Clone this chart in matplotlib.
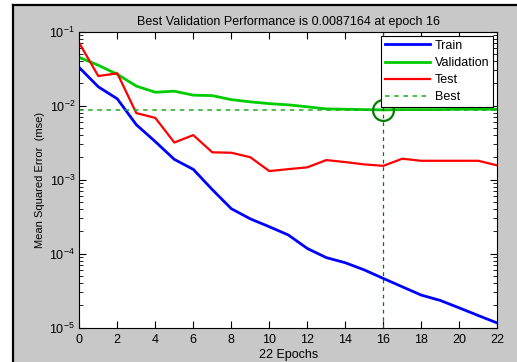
import matplotlib
matplotlib.use("Agg")
import matplotlib.pyplot as plt
from matplotlib.patches import Rectangle
from matplotlib.lines import Line2D
from matplotlib.ticker import LogLocator, NullFormatter

plt.rcParams['font.family'] = ['Liberation Sans', 'DejaVu Sans']
plt.rcParams['mathtext.fontset'] = 'custom'
plt.rcParams['mathtext.rm'] = 'Liberation Sans'
plt.rcParams['mathtext.it'] = 'Liberation Sans'
plt.rcParams['mathtext.default'] = 'regular'

epochs = list(range(23))
train = [0.0325, 0.0179, 0.0123, 0.0055, 0.00325, 0.00187, 0.00137, 0.00073,
         0.000403, 0.000294, 0.00023, 0.000178, 0.000117, 8.8e-5, 7.5e-5,
         6.0e-5, 4.6e-5, 3.55e-5, 2.74e-5, 2.32e-5, 1.84e-5, 1.45e-5, 1.15e-5]
validation = [0.0446, 0.035, 0.0264, 0.0183, 0.0151, 0.0156, 0.0138, 0.0136,
              0.0120, 0.0112, 0.0106, 0.0102, 0.0096, 0.0090, 0.0089, 0.0088,
              0.0087164, 0.0088, 0.0088, 0.0088, 0.0089, 0.0089, 0.0089]
test = [0.0697, 0.025, 0.0272, 0.0079, 0.0068, 0.00316, 0.00398, 0.00233,
        0.0023, 0.0020, 0.0013, 0.00138, 0.00146, 0.00183, 0.00172, 0.0016,
        0.00153, 0.00191, 0.00179, 0.00179, 0.00179, 0.00179, 0.00155]
best_epoch = 16
best_perf = 0.0087164
xticks = list(range(0, 23, 2))
yticks = [1e-5, 1e-4, 1e-3, 1e-2, 1e-1]
ytick_labels = [r'$10^{-5}$', r'$10^{-4}$', r'$10^{-3}$', r'$10^{-2}$', r'$10^{-1}$']

W, H = 517, 362
fig = plt.figure(figsize=(W / 100, H / 100), dpi=100)
fig.patch.set_facecolor('white')
# grey window background with black left/top frame
fig.patches.append(Rectangle((12.5 / W, 0), 1, 1 - 4.5 / H, transform=fig.transFigure,
                             facecolor='#c8c8c8', edgecolor='none', zorder=-10))
fig.add_artist(Line2D([12.5 / W, 12.5 / W], [0, 1 - 4.5 / H], transform=fig.transFigure,
                      color='black', lw=1.6))
fig.add_artist(Line2D([12.5 / W, 1], [1 - 4.5 / H, 1 - 4.5 / H], transform=fig.transFigure,
                      color='black', lw=1.6))

left, right = 79.3 / W, 497.3 / W
top, bottom = 1 - 31.5 / H, 1 - 327.5 / H
ax = fig.add_axes([left, bottom, right - left, top - bottom])
ax.set_facecolor('white')

ax.plot(epochs, train, color='#0000ff', lw=2, label='Train')
ax.plot(epochs, validation, color='#00cc00', lw=2, label='Validation')
ax.plot(epochs, test, color='#ff0000', lw=1.6, label='Test')
ax.axhline(best_perf, color='#22aa22', lw=1.1, ls=(0, (3, 3)), label='Best')
ax.axvline(best_epoch, color='#007a00', lw=0.9, ls=(0, (3, 3)))
ax.plot([best_epoch], [best_perf], 'o', mfc='none', mec='#008000', ms=15, mew=1.6)

ax.set_yscale('log')
ax.set_xlim(0, 22)
ax.set_ylim(1e-5, 1e-1)
ax.set_xticks(xticks)
ax.set_yticks(yticks)
ax.set_yticklabels(ytick_labels)
ax.yaxis.set_minor_locator(LogLocator(base=10, subs=range(2, 10), numticks=20))
ax.yaxis.set_minor_formatter(NullFormatter())
ax.tick_params(axis='both', which='both', direction='in', top=True, right=True,
               labelsize=9, colors='black')
ax.tick_params(axis='x', which='major', pad=5)
ax.tick_params(axis='y', which='major', pad=3)
ax.tick_params(which='major', length=5, width=0.8)
ax.tick_params(which='minor', length=3, width=0.6)
for s in ax.spines.values():
    s.set_linewidth(0.8)

ax.set_title('Best Validation Performance is 0.0087164 at epoch 16', fontsize=9, pad=5)
ax.set_xlabel('22 Epochs', fontsize=9, labelpad=2)
ax.set_ylabel('Mean Squared Error  (mse)', fontsize=8, labelpad=3)

leg = ax.legend(loc='upper right', fontsize=9, handlelength=3.6, borderaxespad=0.35,
                fancybox=False, framealpha=1, edgecolor='black', borderpad=0.3,
                labelspacing=0.42, handletextpad=0.4)
leg.get_frame().set_linewidth(0.8)

fig.savefig('out.png', dpi=100, facecolor=fig.get_facecolor())
